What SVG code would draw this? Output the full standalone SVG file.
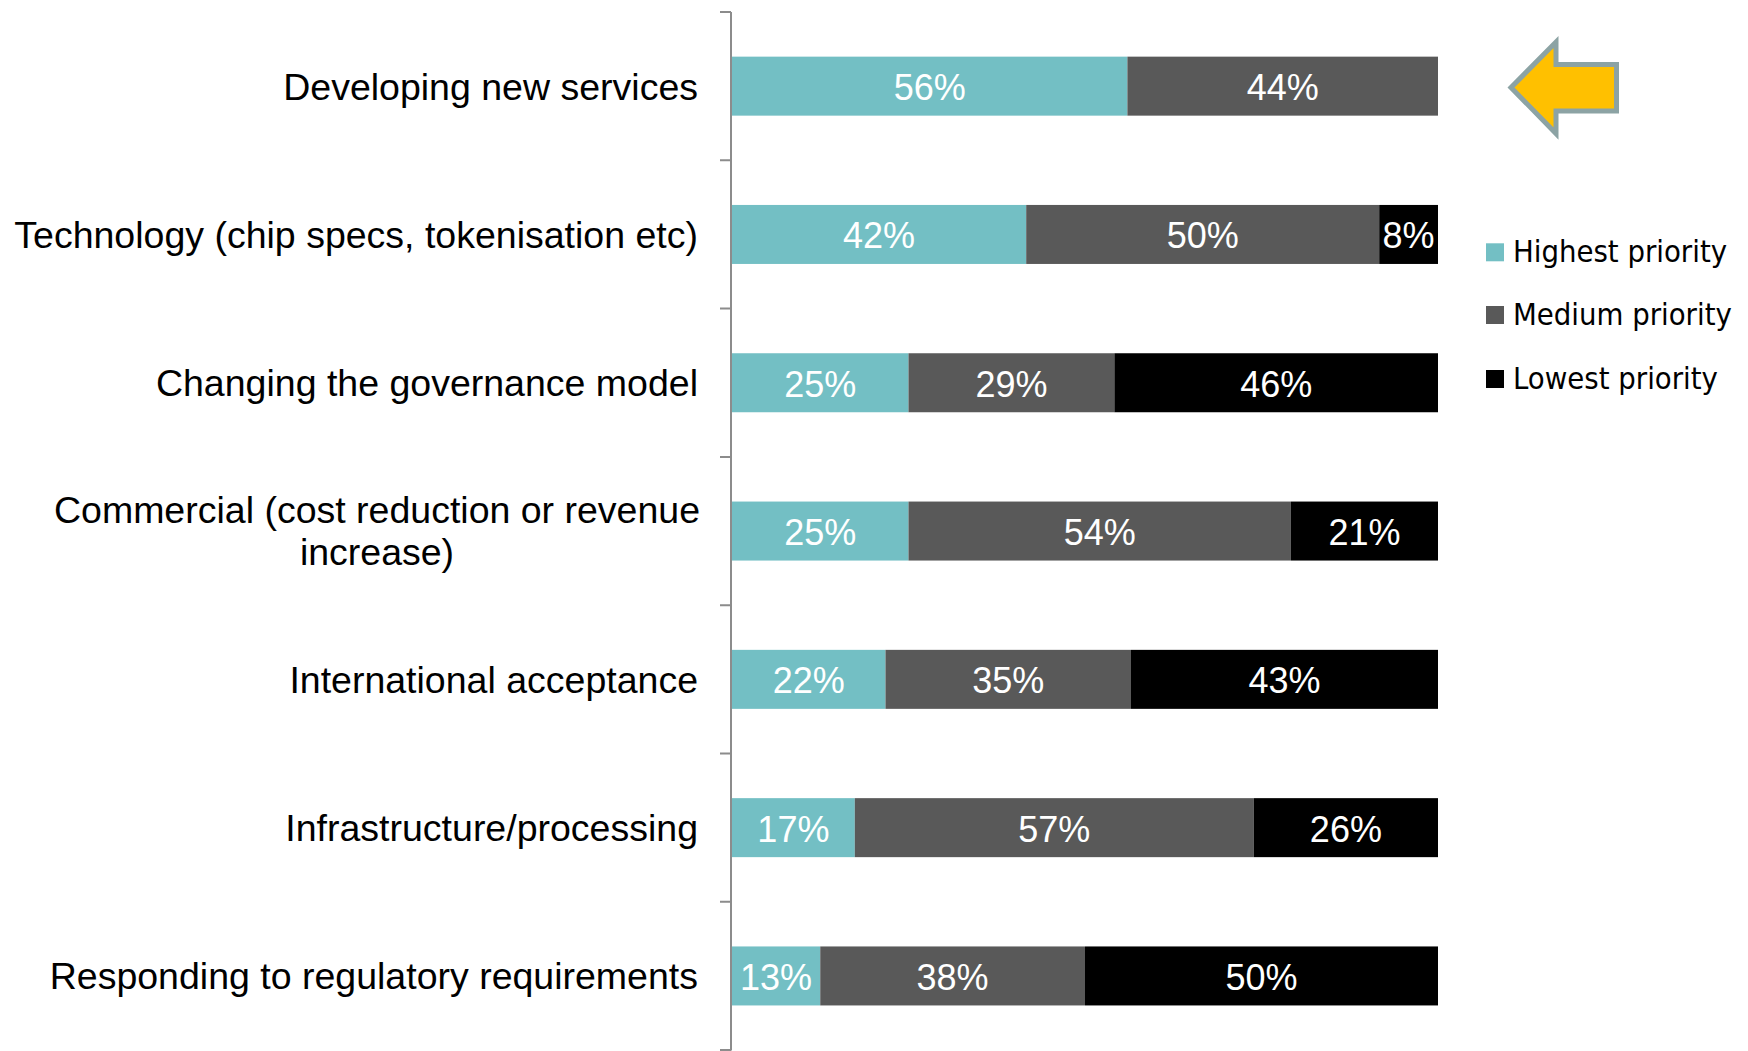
<svg xmlns="http://www.w3.org/2000/svg" width="1748" height="1051" viewBox="0 0 1748 1051">
<style>
.cat{font-family:"Liberation Sans",Arial,sans-serif;font-size:37.5px;fill:#000;text-anchor:end}
.catm{font-family:"Liberation Sans",Arial,sans-serif;font-size:37.5px;fill:#000;text-anchor:middle}
.val{font-family:"Liberation Sans",Arial,sans-serif;font-size:36px;fill:#fff;text-anchor:middle}
.hi{fill:#73BFC4}
.me{fill:#595959}
.lo{fill:#000}
.leg{font-family:"DejaVu Sans Condensed","DejaVu Sans",sans-serif;font-size:30.7px;fill:#000}
.ax{stroke:#8C8C8C;stroke-width:2;fill:none}
</style>
<rect width="1748" height="1051" fill="#fff"/>
<g id="axis">
<path class="ax" d="M731,12V1050.5M720,12H731M720,160.3H731M720,308.6H731M720,456.9H731M720,605.2H731M720,753.5H731M720,901.8H731M720,1050.1H731"/>
</g>
<g id="row1">
<text class="cat" x="698" y="99.5">Developing new services</text>
<rect class="hi" x="732" y="56.65" width="395.4" height="59"/>
<rect class="me" x="1127.4" y="56.65" width="310.6" height="59"/>
<text class="val" x="929.7" y="100">56%</text>
<text class="val" x="1282.7" y="100">44%</text>
</g>
<g id="row2">
<text class="cat" x="698" y="247.8">Technology (chip specs, tokenisation etc)</text>
<rect class="hi" x="732" y="204.95" width="294.2" height="59"/>
<rect class="me" x="1026.2" y="204.95" width="353" height="59"/>
<rect class="lo" x="1379.2" y="204.95" width="58.8" height="59"/>
<text class="val" x="879.1" y="248.3">42%</text>
<text class="val" x="1202.7" y="248.3">50%</text>
<text class="val" x="1408.6" y="248.3">8%</text>
</g>
<g id="row3">
<text class="cat" x="698" y="396.1">Changing the governance model</text>
<rect class="hi" x="732" y="353.25" width="176.5" height="59"/>
<rect class="me" x="908.5" y="353.25" width="205.9" height="59"/>
<rect class="lo" x="1114.4" y="353.25" width="323.6" height="59"/>
<text class="val" x="820.3" y="396.6">25%</text>
<text class="val" x="1011.5" y="396.6">29%</text>
<text class="val" x="1276.2" y="396.6">46%</text>
</g>
<g id="row4">
<text class="catm" x="377" y="523.3">Commercial (cost reduction or revenue</text>
<text class="catm" x="377" y="565.3">increase)</text>
<rect class="hi" x="732" y="501.55" width="176.5" height="59"/>
<rect class="me" x="908.5" y="501.55" width="382.4" height="59"/>
<rect class="lo" x="1290.9" y="501.55" width="147.1" height="59"/>
<text class="val" x="820.3" y="544.9">25%</text>
<text class="val" x="1099.7" y="544.9">54%</text>
<text class="val" x="1364.5" y="544.9">21%</text>
</g>
<g id="row5">
<text class="cat" x="698" y="692.7">International acceptance</text>
<rect class="hi" x="732" y="649.85" width="153.5" height="59"/>
<rect class="me" x="885.5" y="649.85" width="245.5" height="59"/>
<rect class="lo" x="1131" y="649.85" width="307" height="59"/>
<text class="val" x="808.8" y="693.2">22%</text>
<text class="val" x="1008.3" y="693.2">35%</text>
<text class="val" x="1284.5" y="693.2">43%</text>
</g>
<g id="row6">
<text class="cat" x="698" y="841">Infrastructure/processing</text>
<rect class="hi" x="732" y="798.15" width="122.8" height="59"/>
<rect class="me" x="854.8" y="798.15" width="399" height="59"/>
<rect class="lo" x="1253.8" y="798.15" width="184.2" height="59"/>
<text class="val" x="793.4" y="841.5">17%</text>
<text class="val" x="1054.3" y="841.5">57%</text>
<text class="val" x="1345.9" y="841.5">26%</text>
</g>
<g id="row7">
<text class="cat" x="698" y="989.3">Responding to regulatory requirements</text>
<rect class="hi" x="732" y="946.45" width="88.25" height="59"/>
<rect class="me" x="820.25" y="946.45" width="264.75" height="59"/>
<rect class="lo" x="1085" y="946.45" width="353" height="59"/>
<text class="val" x="776.1" y="989.8">13%</text>
<text class="val" x="952.6" y="989.8">38%</text>
<text class="val" x="1261.5" y="989.8">50%</text>
</g>
<g id="arrow">
<polygon points="1511,87.5 1556,42 1556,64.5 1616.5,64.5 1616.5,111 1556,111 1556,133.5" fill="#FFC000" stroke="#8CA3A4" stroke-width="5"/>
</g>
<g id="legend">
<rect class="hi" x="1486" y="243.3" width="18" height="18"/>
<text class="leg" x="1513" y="261.7">Highest priority</text>
<rect class="me" x="1486" y="306" width="18" height="18"/>
<text class="leg" x="1513" y="325">Medium priority</text>
<rect class="lo" x="1486" y="370" width="18" height="18"/>
<text class="leg" x="1513" y="389">Lowest priority</text>
</g>
</svg>
